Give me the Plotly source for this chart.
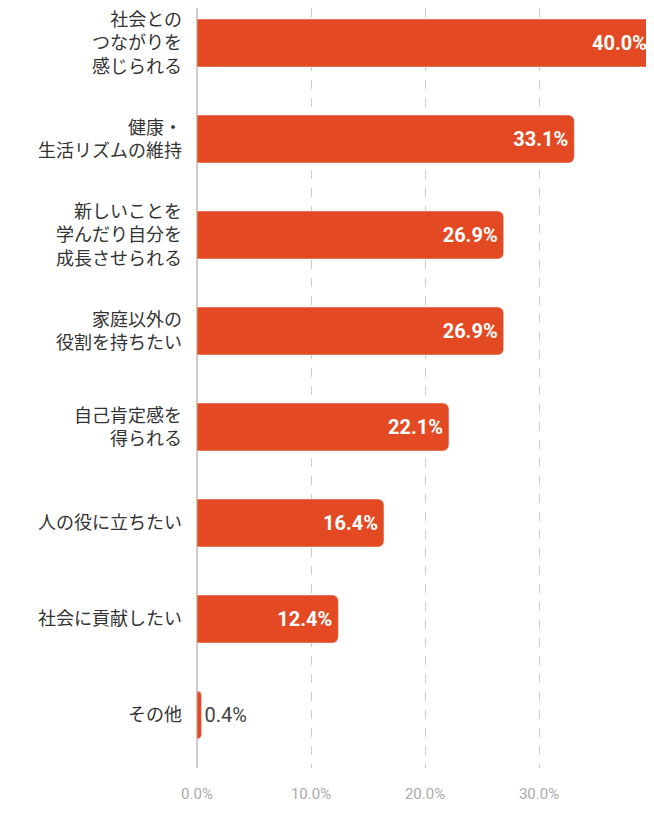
import plotly.graph_objects as go

labels = ["社会との<br>つながりを<br>感じられる", "健康・<br>生活リズムの維持", "新しいことを<br>学んだり自分を<br>成長させられる",
          "家庭以外の<br>役割を持ちたい", "自己肯定感を<br>得られる", "人の役に立ちたい", "社会に貢献したい", "その他"]
values = [40.0, 33.1, 26.9, 26.9, 22.1, 16.4, 12.4, 0.4]
tick_vals = [0, 10, 20, 30, 40]
tick_text = ["0.0%", "10.0%", "20.0%", "30.0%", "40.0%"]

font = "Roboto, Noto Sans CJK JP"
fig = go.Figure(go.Bar(
    x=values, y=labels, orientation="h",
    marker=dict(color="#E34A23", cornerradius=6),
    text=[f"<b>{v:.1f}%</b>" if v > 5 else f"{v:.1f}%" for v in values],
    textposition=["inside" if v > 5 else "outside" for v in values],
    insidetextanchor="end",
    insidetextfont=dict(color="white", size=20, family=font),
    outsidetextfont=dict(color="#444", size=20, family=font),
    cliponaxis=False,
))
fig.update_layout(
    width=646, height=805, margin=dict(l=189, r=1, t=0, b=45),
    plot_bgcolor="white", paper_bgcolor="white", bargap=0.5,
    showlegend=False, font=dict(family=font),
)
fig.update_xaxes(range=[0, 40], tickvals=tick_vals, ticktext=tick_text,
                 tickfont=dict(size=15, color="#aaa"), showgrid=True,
                 gridcolor="#ccc", griddash="dash", zeroline=True,
                 zerolinecolor="#ccc", zerolinewidth=1.5, ticks="", ticklabelstandoff=15)
fig.update_yaxes(range=[7.552, -0.365], tickfont=dict(size=18, color="#333"),
                 ticks="", ticklabelstandoff=14, showgrid=False)
fig.write_html("out.html")
